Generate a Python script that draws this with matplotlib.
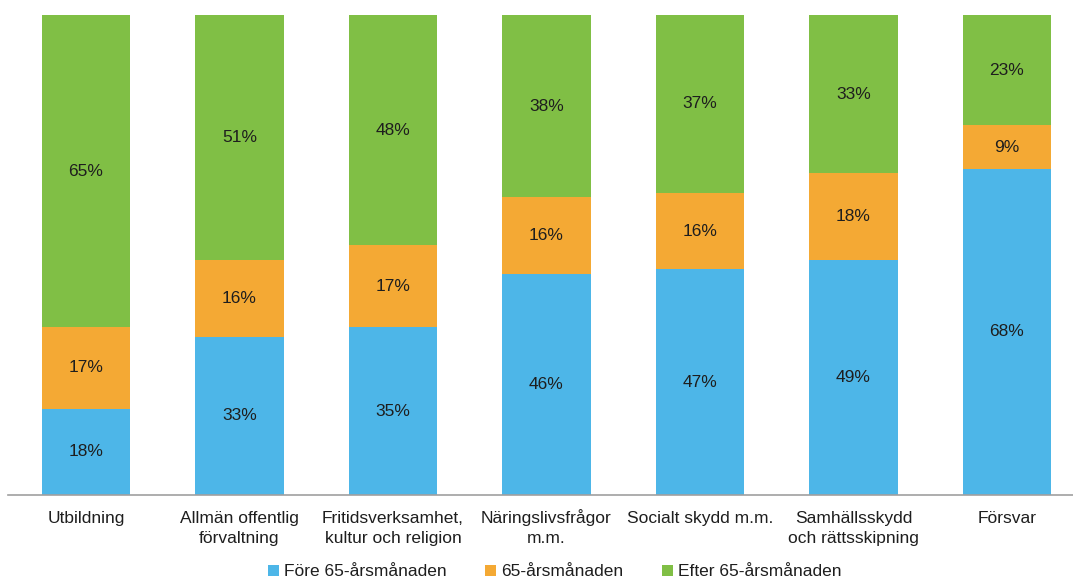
import numpy as np
import matplotlib
matplotlib.use("Agg")
from matplotlib import pyplot as plt
from matplotlib.transforms import ScaledTranslation

plt.rcParams["font.family"] = ["Liberation Sans", "DejaVu Sans"]

categories = ["Utbildning", "Allmän offentlig\nförvaltning", "Fritidsverksamhet,\nkultur och religion",
              "Näringslivsfrågor\nm.m.", "Socialt skydd m.m.", "Samhällsskydd\noch rättsskipning", "Försvar"]
fore = [18, 33, 35, 46, 47, 49, 68]
manad = [17, 16, 17, 16, 16, 18, 9]
efter = [65, 51, 48, 38, 37, 33, 23]
series_names = ["Före 65-årsmånaden", "65-årsmånaden", "Efter 65-årsmånaden"]
colors = ["#4DB6E8", "#F4A934", "#80BF45"]
txt = "#1E1E1E"
fs = 12.5

fig = plt.figure(figsize=(10.73, 5.79), dpi=100)
ax = fig.add_axes([8 / 1073, 1 - 495 / 579, 1065 / 1073, 480 / 579])

x = np.arange(len(categories))
bottom = np.zeros(len(categories))
for vals, name, c in zip([fore, manad, efter], series_names, colors):
    ax.bar(x, vals, 0.575, bottom=bottom, color=c, label=name)
    for xi, b, v in zip(x, bottom, vals):
        ax.text(xi, b + v / 2, f"{v}%", ha="center", va="center", fontsize=fs, color=txt)
    bottom += np.array(vals)

ax.set_xlim(-0.508, 6.43)
ax.set_ylim(0, 100)
ax.set_xticks([])
ax.set_yticks([])

# category labels, one line at a time so every first line sits on the same baseline
for xi, cat in zip(x, categories):
    for j, line in enumerate(cat.split("\n")):
        tr = ax.get_xaxis_transform() + ScaledTranslation(0, -(28 + 20 * j) / 100, fig.dpi_scale_trans)
        ax.text(xi, 0, line, transform=tr, ha="center", va="baseline", fontsize=fs, color=txt)

for s in ["top", "left", "right"]:
    ax.spines[s].set_visible(False)
ax.spines["bottom"].set_color("#A0A0A0")
ax.spines["bottom"].set_linewidth(1.2)

fig.legend(loc="center", bbox_to_anchor=(0.517, 1 - 572 / 579), ncol=3, frameon=False,
           fontsize=fs, handlelength=0.65, handleheight=0.65, handletextpad=0.3,
           columnspacing=2.2, labelcolor=txt)

fig.savefig("out.png", dpi=100)
